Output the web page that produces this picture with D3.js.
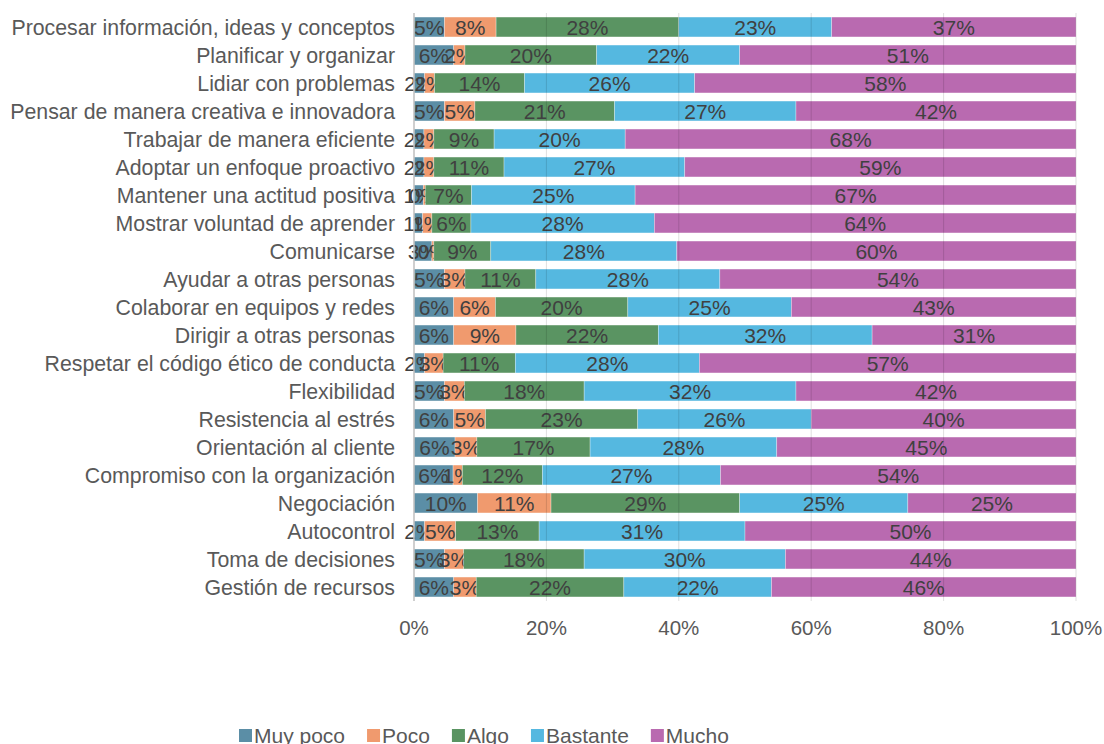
<!DOCTYPE html>
<html>
<head>
<meta charset="utf-8">
<script src="https://cdn.jsdelivr.net/npm/d3@7"></script>
<style>
  body { margin: 0; background: #fff; }
  text { font-family: "Liberation Sans", Arial, sans-serif; }
</style>
</head>
<body>
<div id="canvas" class="canvas" style="width:1104px;height:744px;"></div>
<script>
// categories (top to bottom)
var categories = [
  'Procesar información, ideas y conceptos',
  'Planificar y organizar',
  'Lidiar con problemas',
  'Pensar de manera creativa e innovadora',
  'Trabajar de manera eficiente',
  'Adoptar un enfoque proactivo',
  'Mantener una actitud positiva',
  'Mostrar voluntad de aprender',
  'Comunicarse',
  'Ayudar a otras personas',
  'Colaborar en equipos y redes',
  'Dirigir a otras personas',
  'Respetar el código ético de conducta',
  'Flexibilidad',
  'Resistencia al estrés',
  'Orientación al cliente',
  'Compromiso con la organización',
  'Negociación',
  'Autocontrol',
  'Toma de decisiones',
  'Gestión de recursos'
];

var seriesNames = ['Muy poco', 'Poco', 'Algo', 'Bastante', 'Mucho'];
var seriesColors = ['#5b8ea6', '#f09a6e', '#5a9462', '#55b8e0', '#b96ab0'];

// percentages per series, same order as categories
var muyPoco  = [4.6, 6.0, 1.6, 4.6, 1.5, 1.5, 1.4, 1.3, 2.7, 4.6, 6.0, 6.0, 1.6, 4.6, 6.0, 6.2, 5.9, 9.6, 1.6, 4.6, 6.0];
var poco     = [7.8, 1.7, 1.5, 4.6, 1.5, 1.5, 0.3, 1.4, 0.3, 3.1, 6.3, 9.4, 2.8, 3.0, 4.8, 3.3, 1.4, 11.1, 4.7, 2.9, 3.4];
var algo     = [27.6, 19.9, 13.6, 21.1, 9.1, 10.6, 7.0, 5.9, 8.6, 10.7, 20.0, 21.5, 10.9, 18.1, 23.0, 17.1, 12.1, 28.5, 12.6, 18.2, 22.3];
var bastante = [23.1, 21.6, 25.7, 27.4, 19.8, 27.3, 24.7, 27.7, 28.1, 27.8, 24.7, 32.3, 27.8, 32.0, 26.2, 28.2, 26.9, 25.4, 31.1, 30.4, 22.3];
var mucho    = [36.9, 50.8, 57.6, 42.3, 68.1, 59.1, 66.6, 63.7, 60.3, 53.8, 43.0, 30.8, 56.9, 42.3, 40.0, 45.2, 53.7, 25.4, 50.0, 43.9, 46.0];

var xTicks = [0, 20, 40, 60, 80, 100];

var seriesValues = [muyPoco, poco, algo, bastante, mucho];

var rows = categories.map(function(c, i){
  var r = {cat: c};
  seriesNames.forEach(function(s, j){ r[s] = seriesValues[j][i]; });
  return r;
});

var W = 1104, H = 744;
var m = {t:13, l:414, r:28, b:143};
var w = W - m.l - m.r, h = H - m.t - m.b;

var svg = d3.select('.canvas').append('svg')
    .attr('width', W).attr('height', H);

var plot = svg.append('g').attr('transform', 'translate(' + m.l + ',' + m.t + ')');

var x = d3.scaleLinear().domain([0, 100]).range([0, w]);
var y = d3.scaleBand().domain(categories).range([0, h]).paddingInner(0.29).paddingOuter(0.145);

var stack = d3.stack().keys(seriesNames);
var stacked = stack(rows);

var grid = plot.append('g').attr('class', 'grid');

// bars
var layers = plot.selectAll('.layer')
    .data(stacked)
    .enter().append('g')
    .attr('class', 'layer')
    .attr('fill', function(d, i){ return seriesColors[i]; });

layers.selectAll('rect')
    .data(function(d){ return d; })
    .enter().append('rect')
    .attr('x', function(d){ return x(d[0]); })
    .attr('y', function(d){ return y(d.data.cat); })
    .attr('width', function(d){ return x(d[1]) - x(d[0]); })
    .attr('height', y.bandwidth())
    .attr('stroke', '#ffffff')
    .attr('stroke-opacity', 0.5)
    .attr('stroke-width', 0.6);

// gridlines on top, faint so they show through the bars
grid.raise();
grid.selectAll('line')
    .data(xTicks.slice(1))
    .enter().append('line')
    .attr('x1', function(d){ return x(d); })
    .attr('x2', function(d){ return x(d); })
    .attr('y1', 0).attr('y2', h)
    .attr('stroke', 'rgba(0,0,0,0.13)')
    .attr('stroke-width', 1);

// y axis line
plot.append('line')
    .attr('x1', 0).attr('x2', 0).attr('y1', 0).attr('y2', h)
    .attr('stroke', '#bfbfbf').attr('stroke-width', 1.5);

// data labels
var fmt = d3.format('.0%');
layers.selectAll('text')
    .data(function(d){ return d; })
    .enter().append('text')
    .attr('x', function(d){ return (x(d[0]) + x(d[1])) / 2; })
    .attr('y', function(d){ return y(d.data.cat) + y.bandwidth() / 2; })
    .attr('dy', '0.36em')
    .attr('text-anchor', 'middle')
    .attr('fill', '#404040')
    .style('font-size', '21px')
    .text(function(d){ return fmt((d[1] - d[0]) / 100); });

// category labels
plot.selectAll('.cat')
    .data(categories)
    .enter().append('text')
    .attr('class', 'cat')
    .attr('x', -19)
    .attr('y', function(d){ return y(d) + y.bandwidth() / 2; })
    .attr('dy', '0.36em')
    .attr('text-anchor', 'end')
    .attr('fill', '#595959')
    .style('font-size', '21.3px')
    .text(function(d){ return d; });

// x tick labels
plot.selectAll('.tick-label')
    .data(xTicks)
    .enter().append('text')
    .attr('class', 'tick-label')
    .attr('x', function(d){ return x(d); })
    .attr('y', h + 27)
    .attr('dy', '0.36em')
    .attr('text-anchor', 'middle')
    .attr('fill', '#595959')
    .style('font-size', '20.5px')
    .text(function(d){ return d + '%'; });

// legend
var legend = svg.append('g').attr('transform', 'translate(239,735)');
var lx = 0;
seriesNames.forEach(function(s, i){
  var g = legend.append('g').attr('transform', 'translate(' + lx + ',0)');
  g.append('rect').attr('x', 0).attr('y', -6).attr('width', 13).attr('height', 13)
    .attr('fill', seriesColors[i]);
  var t = g.append('text').attr('x', 15).attr('y', 0).attr('dy', '0.36em')
    .attr('fill', '#595959').style('font-size', '21px').text(s);
  lx += 15 + t.node().getComputedTextLength() + 22;
});
</script>
</body>
</html>
